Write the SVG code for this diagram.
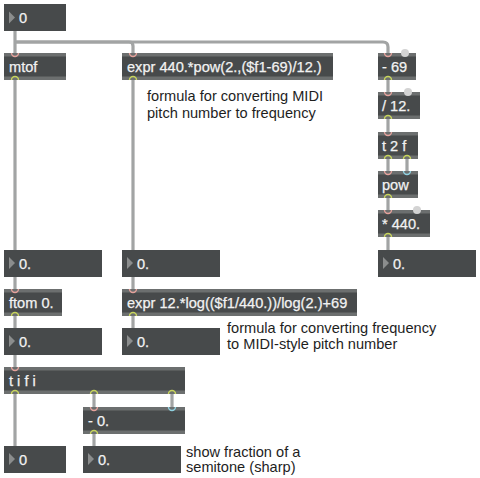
<svg xmlns="http://www.w3.org/2000/svg" width="480" height="478" viewBox="0 0 480 478">
<style>
.bg{fill:#ffffff}
.body{fill:#474a4b}
.stripe{fill:#6c6f6f}
.num{fill:#474a4b}
.tri{fill:#8b8d8d}
.t{font-family:"Liberation Sans",Arial,sans-serif;font-size:14.6px;fill:#f2f2f2;stroke:#f2f2f2;stroke-width:0.25}
.c{font-family:"Liberation Sans",Arial,sans-serif;font-size:14.6px;fill:#1e1e1e}
.cable{fill:none;stroke:#a2a4a4;stroke-width:3.2;stroke-linecap:butt;stroke-linejoin:round}
.in{fill:#6c6f6f;stroke:#e6a29c;stroke-width:1.4}
.incy{fill:#6c6f6f;stroke:#90d2e2;stroke-width:1.4}
.out{fill:#6c6f6f;stroke:#c8d55c;stroke-width:1.4}
.ing{fill:#d3d3d3}
</style>
<defs>
<path id="inl" d="M-3.5,0 A3.5,3.5 0 0 0 3.5,0"/>
<path id="outl" d="M-3.5,0 A3.5,3.5 0 0 1 3.5,0"/>
<polygon id="arrow" points="0,0 6,6 0,12"/>
</defs>
<rect class="bg" x="0" y="0" width="480" height="478"/>

<g id="connectors">
<path class="cable" d="M15,31 V53"/>
<path class="cable" d="M15,42 H129 Q133,42 133,46 V53"/>
<path class="cable" d="M15,42 H383 Q388,42 388,47 V53"/>
<path class="cable" d="M15,80 V250"/>
<path class="cable" d="M133,80 V250"/>
<path class="cable" d="M388,80 V92"/>
<path class="cable" d="M388,119 V132"/>
<path class="cable" d="M388,159 V171"/>
<path class="cable" d="M407,159 V171"/>
<path class="cable" d="M388,198 V210"/>
<path class="cable" d="M388,237 V250"/>
<path class="cable" d="M15,277 V289"/>
<path class="cable" d="M133,277 V289"/>
<path class="cable" d="M15,316 V328"/>
<path class="cable" d="M133,316 V328"/>
<path class="cable" d="M15,355 V367"/>
<path class="cable" d="M15,394 V446"/>
<path class="cable" d="M94,394 V407"/>
<path class="cable" d="M172,394 V407"/>
<path class="cable" d="M94,434 V446"/>
</g>

<g id="num_top">
<rect class="num" x="4" y="4" width="62" height="27"/>
<use href="#arrow" class="tri" x="9" y="11.5"/>
<text class="t" x="19" y="22.5">0</text>
</g>

<g id="mtof">
<rect class="body" x="4" y="53" width="62" height="27"/>
<rect class="stripe" x="4" y="53" width="62" height="3.5"/>
<rect class="stripe" x="4" y="76.5" width="62" height="3.5"/>
<text class="t" x="9" y="72">mtof</text>
<use href="#inl" class="in" x="15" y="53"/>
<use href="#outl" class="out" x="15" y="80"/>
</g>

<g id="expr1">
<rect class="body" x="122" y="53" width="211" height="27"/>
<rect class="stripe" x="122" y="53" width="211" height="3.5"/>
<rect class="stripe" x="122" y="76.5" width="211" height="3.5"/>
<text class="t" x="127" y="72">expr 440.*pow(2.,($f1-69)/12.)</text>
<use href="#inl" class="in" x="133" y="53"/>
<use href="#outl" class="out" x="133" y="80"/>
</g>

<g id="comment1">
<text class="c" x="147" y="101">formula for converting MIDI</text>
<text class="c" x="147" y="118">pitch number to frequency</text>
</g>

<g id="minus69">
<rect class="body" x="378" y="53" width="38" height="27"/>
<rect class="stripe" x="378" y="53" width="38" height="3.5"/>
<rect class="stripe" x="378" y="76.5" width="38" height="3.5"/>
<text class="t" x="382" y="72">- 69</text>
<use href="#inl" class="in" x="388" y="53"/>
<circle class="ing" cx="405" cy="53" r="4"/>
<use href="#outl" class="out" x="388" y="80"/>
</g>

<g id="div12">
<rect class="body" x="378" y="92" width="42" height="27"/>
<rect class="stripe" x="378" y="92" width="42" height="3.5"/>
<rect class="stripe" x="378" y="115.5" width="42" height="3.5"/>
<text class="t" x="382" y="111">/ 12.</text>
<use href="#inl" class="in" x="388" y="92"/>
<circle class="ing" cx="408" cy="92" r="4"/>
<use href="#outl" class="out" x="388" y="119"/>
</g>

<g id="t2f">
<rect class="body" x="378" y="132" width="40" height="27"/>
<rect class="stripe" x="378" y="132" width="40" height="3.5"/>
<rect class="stripe" x="378" y="155.5" width="40" height="3.5"/>
<text class="t" x="382" y="151">t 2 f</text>
<use href="#inl" class="in" x="388" y="132"/>
<use href="#outl" class="out" x="388" y="159"/>
<use href="#outl" class="out" x="407" y="159"/>
</g>

<g id="pow">
<rect class="body" x="378" y="171" width="40" height="27"/>
<rect class="stripe" x="378" y="171" width="40" height="3.5"/>
<rect class="stripe" x="378" y="194.5" width="40" height="3.5"/>
<text class="t" x="382" y="190">pow</text>
<use href="#inl" class="in" x="388" y="171"/>
<use href="#inl" class="incy" x="407" y="171"/>
<use href="#outl" class="out" x="388" y="198"/>
</g>

<g id="mul440">
<rect class="body" x="378" y="210" width="52" height="27"/>
<rect class="stripe" x="378" y="210" width="52" height="3.5"/>
<rect class="stripe" x="378" y="233.5" width="52" height="3.5"/>
<text class="t" x="382" y="229">* 440.</text>
<use href="#inl" class="in" x="388" y="210"/>
<circle class="ing" cx="417" cy="210" r="4"/>
<use href="#outl" class="out" x="388" y="237"/>
</g>

<g id="num_right">
<rect class="num" x="378" y="250" width="98" height="27"/>
<use href="#arrow" class="tri" x="383" y="257"/>
<text class="t" x="393" y="268.5">0.</text>
</g>

<g id="num_a">
<rect class="num" x="4" y="250" width="98" height="27"/>
<use href="#arrow" class="tri" x="9" y="257"/>
<text class="t" x="19" y="268.5">0.</text>
</g>

<g id="num_b">
<rect class="num" x="122" y="250" width="98" height="27"/>
<use href="#arrow" class="tri" x="127" y="257"/>
<text class="t" x="137" y="268.5">0.</text>
</g>

<g id="ftom">
<rect class="body" x="4" y="289" width="58" height="27"/>
<rect class="stripe" x="4" y="289" width="58" height="3.5"/>
<rect class="stripe" x="4" y="312.5" width="58" height="3.5"/>
<text class="t" x="9" y="308">ftom 0.</text>
<use href="#inl" class="in" x="15" y="289"/>
<use href="#outl" class="out" x="15" y="316"/>
</g>

<g id="expr2">
<rect class="body" x="122" y="289" width="235" height="27"/>
<rect class="stripe" x="122" y="289" width="235" height="3.5"/>
<rect class="stripe" x="122" y="312.5" width="235" height="3.5"/>
<text class="t" x="127" y="308">expr 12.*log(($f1/440.))/log(2.)+69</text>
<use href="#inl" class="in" x="133" y="289"/>
<use href="#outl" class="out" x="133" y="316"/>
</g>

<g id="num_c">
<rect class="num" x="4" y="328" width="98" height="27"/>
<use href="#arrow" class="tri" x="9" y="335"/>
<text class="t" x="19" y="346.5">0.</text>
</g>

<g id="num_d">
<rect class="num" x="122" y="328" width="98" height="27"/>
<use href="#arrow" class="tri" x="127" y="335"/>
<text class="t" x="137" y="346.5">0.</text>
</g>

<g id="comment2">
<text class="c" x="227" y="333">formula for converting frequency</text>
<text class="c" x="227" y="349">to MIDI-style pitch number</text>
</g>

<g id="tifi">
<rect class="body" x="4" y="367" width="181" height="27"/>
<rect class="stripe" x="4" y="367" width="181" height="3.5"/>
<rect class="stripe" x="4" y="390.5" width="181" height="3.5"/>
<text class="t" x="9" y="386">t i f i</text>
<use href="#inl" class="in" x="15" y="367"/>
<use href="#outl" class="out" x="15" y="394"/>
<use href="#outl" class="out" x="94" y="394"/>
<use href="#outl" class="out" x="172" y="394"/>
</g>

<g id="minus0">
<rect class="body" x="83" y="407" width="102" height="27"/>
<rect class="stripe" x="83" y="407" width="102" height="3.5"/>
<rect class="stripe" x="83" y="430.5" width="102" height="3.5"/>
<text class="t" x="88" y="426">- 0.</text>
<use href="#inl" class="in" x="94" y="407"/>
<use href="#inl" class="incy" x="172" y="407"/>
<use href="#outl" class="out" x="94" y="434"/>
</g>

<g id="num_int">
<rect class="num" x="4" y="446" width="62" height="27"/>
<use href="#arrow" class="tri" x="9" y="453"/>
<text class="t" x="19" y="464.5">0</text>
</g>

<g id="num_frac">
<rect class="num" x="83" y="446" width="98" height="27"/>
<use href="#arrow" class="tri" x="88" y="453"/>
<text class="t" x="98" y="464.5">0.</text>
</g>

<g id="comment3">
<text class="c" x="186" y="457">show fraction of a</text>
<text class="c" x="186" y="472">semitone (sharp)</text>
</g>
</svg>
